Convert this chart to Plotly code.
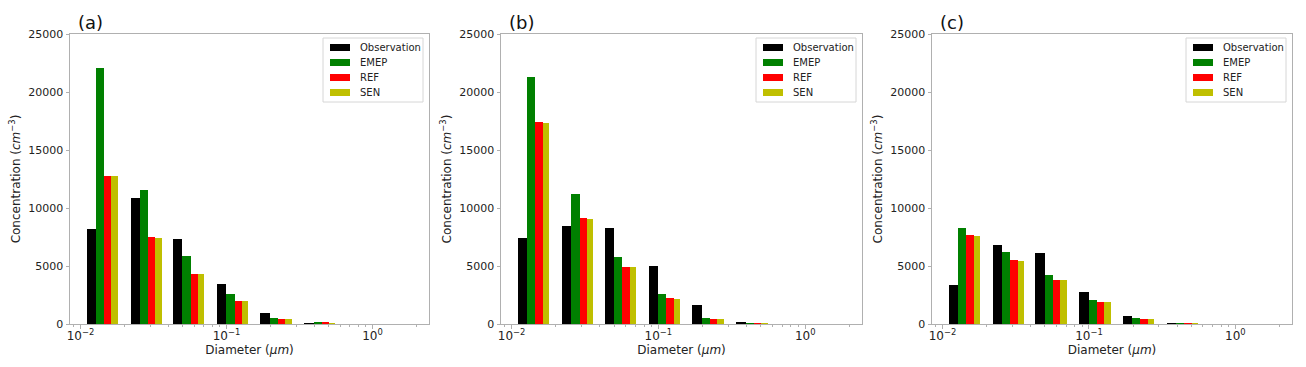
import numpy as np
import plotly.graph_objects as go

# bin diameters (um) and series
diameters = [0.011, 0.022, 0.043, 0.086, 0.17, 0.34]
series = ["Observation", "EMEP", "REF", "SEN"]
colors = ["#000000", "#008000", "#ff0000", "#bfbf00"]
panel_labels = ["(a)", "(b)", "(c)"]

obs_a = [8200, 10830, 7330, 3450, 980, 60]
emep_a = [22100, 11520, 5860, 2610, 490, 110]
ref_a = [12790, 7470, 4280, 1950, 400, 90]
sen_a = [12780, 7420, 4280, 1950, 400, 70]

obs_b = [7440, 8420, 8250, 5030, 1640, 90]
emep_b = [21290, 11180, 5750, 2590, 490, 80]
ref_b = [17390, 9140, 4940, 2210, 430, 70]
sen_b = [17330, 9050, 4910, 2190, 430, 60]

obs_c = [3330, 6780, 6090, 2730, 690, 50]
emep_c = [8280, 6210, 4220, 2070, 490, 70]
ref_c = [7640, 5520, 3820, 1900, 460, 70]
sen_c = [7590, 5460, 3820, 1900, 460, 60]

panels = [
    [obs_a, emep_a, ref_a, sen_a],
    [obs_b, emep_b, ref_b, sen_b],
    [obs_c, emep_c, ref_c, sen_c],
]

W, H = 1306, 367
FONT = "DejaVu Sans"
TXT = "#222222"
SPINE = "#b0b0b0"


def px(x):
    return x / W


def py(y):
    return 1 - y / H


# plot-area pixel boxes (left, right); top/bottom shared
lefts = [70, 501, 932]
rights = [429, 862, 1292]
top, bottom = 34, 324
xrange_log = [-2.072, 0.387]
rel_w = 0.16  # bar width relative to bin diameter

minor_vals = [np.log10(k * 10.0 ** e) for e in (-3, -2, -1, 0) for k in range(2, 10)]
minor_vals = [v for v in minor_vals if xrange_log[0] < v < xrange_log[1]]

fig = go.Figure()
shapes = []
annotations = []

for i, data in enumerate(panels):
    xa = "x" if i == 0 else f"x{i+1}"
    ya = "y" if i == 0 else f"y{i+1}"
    d = np.array(diameters)
    for k, (name, vals, col) in enumerate(zip(series, data, colors)):
        lo = np.log10(d * (1 + k * rel_w))
        hi = np.log10(d * (1 + (k + 1) * rel_w))
        fig.add_trace(go.Bar(
            x=(lo + hi) / 2, y=vals, width=hi - lo, name=name,
            marker=dict(color=col, line=dict(width=0)),
            xaxis=xa, yaxis=ya, showlegend=False,
        ))

    key = "" if i == 0 else str(i + 1)
    fig.layout["xaxis" + key] = dict(
        domain=[px(lefts[i]), px(rights[i])], anchor=ya, range=xrange_log,
        automargin=False,
        tickmode="array", tickvals=[-2, -1, 0],
        ticktext=["10<sup>\u22122</sup>", "10<sup>\u22121</sup>", "10<sup>0</sup>"],
        ticks="outside", ticklen=3.5, tickcolor=SPINE, ticklabelstandoff=-3,
        minor=dict(tickvals=minor_vals, ticks="outside", ticklen=2, tickcolor=SPINE),
        showline=True, linecolor=SPINE, mirror=True, showgrid=False, zeroline=False,
        tickfont=dict(size=12, color=TXT, family=FONT),
        title=dict(text="Diameter (<i>\u03bcm</i>)", standoff=0,
                   font=dict(size=12, color=TXT, family=FONT)),
    )
    fig.layout["yaxis" + key] = dict(
        domain=[py(bottom), py(top)], anchor=xa, range=[0, 25000],
        automargin=False,
        tickmode="linear", tick0=0, dtick=5000, tickformat="d",
        ticks="outside", ticklen=3.5, tickcolor=SPINE,
        showline=True, linecolor=SPINE, mirror=True, showgrid=False, zeroline=False,
        tickfont=dict(size=11, color=TXT, family=FONT),
        title=dict(text="Concentration (<i>cm</i><sup>\u22123</sup>)", standoff=5,
                   font=dict(size=12, color=TXT, family=FONT)),
    )

    # panel label
    annotations.append(dict(
        text=panel_labels[i], xref="paper", yref="paper",
        x=px(lefts[i] + 6), y=py(22), xanchor="left", yanchor="middle",
        showarrow=False, font=dict(size=18, color="#111111", family=FONT),
    ))

    # legend box drawn by hand (matplotlib-style wide patches)
    R = rights[i]
    shapes.append(dict(
        type="rect", xref="paper", yref="paper",
        x0=px(R - 106), x1=px(R - 6), y0=py(102), y1=py(38),
        line=dict(color="#d6d6d6", width=1), fillcolor="white", layer="above",
    ))
    for k, (name, col) in enumerate(zip(series, colors)):
        ry = 47.5 + 15 * k
        shapes.append(dict(
            type="rect", xref="paper", yref="paper",
            x0=px(R - 99), x1=px(R - 79), y0=py(ry + 3.5), y1=py(ry - 3.5),
            line=dict(width=0), fillcolor=col, layer="above",
        ))
        annotations.append(dict(
            text=name, xref="paper", yref="paper",
            x=px(R - 71), y=py(ry), xanchor="left", yanchor="middle",
            showarrow=False, font=dict(size=10, color=TXT, family=FONT),
        ))

fig.update_layout(
    width=W, height=H, margin=dict(l=0, r=0, t=0, b=0),
    barmode="overlay", bargap=0,
    plot_bgcolor="white", paper_bgcolor="white",
    font=dict(family=FONT, color=TXT),
    shapes=shapes, annotations=annotations, showlegend=False,
)

fig.write_html("out.html", config={"displayModeBar": False},
               post_script="document.body.style.margin='0';")
